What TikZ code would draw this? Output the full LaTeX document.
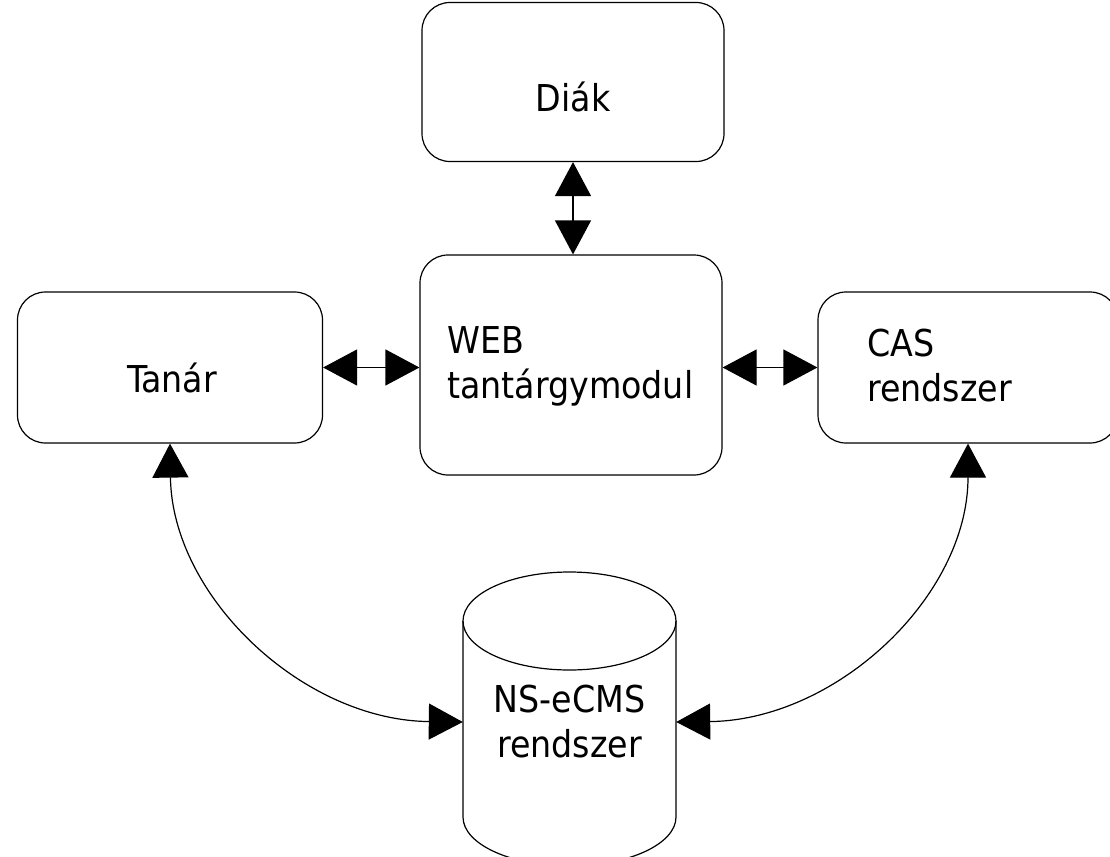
\documentclass[tikz,border=0pt]{standalone}
\usepackage{fontspec}
\setmainfont{DejaVu Sans Condensed}
\usetikzlibrary{arrows.meta}
\tikzset{
  box/.style={draw=black, line width=1.2pt, rounded corners=28pt, fill=white},
  lbl/.style={font=\fontsize{37}{45}\selectfont, inner sep=0pt, align=left},
  biarrow/.style={line width=1.2pt, {Triangle[width=36pt,length=34pt]}-{Triangle[width=36pt,length=34pt]}},
}
\begin{document}
\begin{tikzpicture}[x=1pt,y=-1pt]
\useasboundingbox (0,0) rectangle (1110,856);
% boxes
\node[box, minimum width=302pt, minimum height=159pt] (diak) at (573,82) {};
\node[lbl] (diaktext) at (573,97) {Diák};
\node[box, minimum width=302pt, minimum height=220pt] (web) at (571,365) {};
\node[lbl, anchor=west] (webtext) at (447,366) {WEB\\tantárgymodul};
\node[box, minimum width=305pt, minimum height=151pt] (tanar) at (170,367.5) {};
\node[lbl] (tanartext) at (172,378) {Tanár};
\node[box, minimum width=300pt, minimum height=151pt] (cas) at (968,367.5) {};
\node[lbl, anchor=west] (castext) at (867,366) {CAS\\rendszer};
% cylinder
\draw[line width=1.2pt] (463,621) -- (463,817) arc[start angle=180, end angle=0, x radius=106.5, y radius=49] -- (676,621);
\draw[line width=1.2pt] (569.5,621) ellipse[x radius=106.5, y radius=49];
\node[lbl, minimum width=213pt, align=center] (db) at (569.5,722) {NS-eCMS\\rendszer};
% connectors
\draw[biarrow] (diak.south) -- (diak.south |- web.north);
\draw[biarrow] (tanar.east) -- (tanar.east -| web.west);
\draw[biarrow] (cas.west -| web.east) -- (cas.west);
\draw[biarrow] (tanar.south) .. controls (172,596) and (302,720) .. (db.west);
\draw[biarrow] (cas.south) .. controls (968,596) and (837,720) .. (db.east);
\end{tikzpicture}
\end{document}
